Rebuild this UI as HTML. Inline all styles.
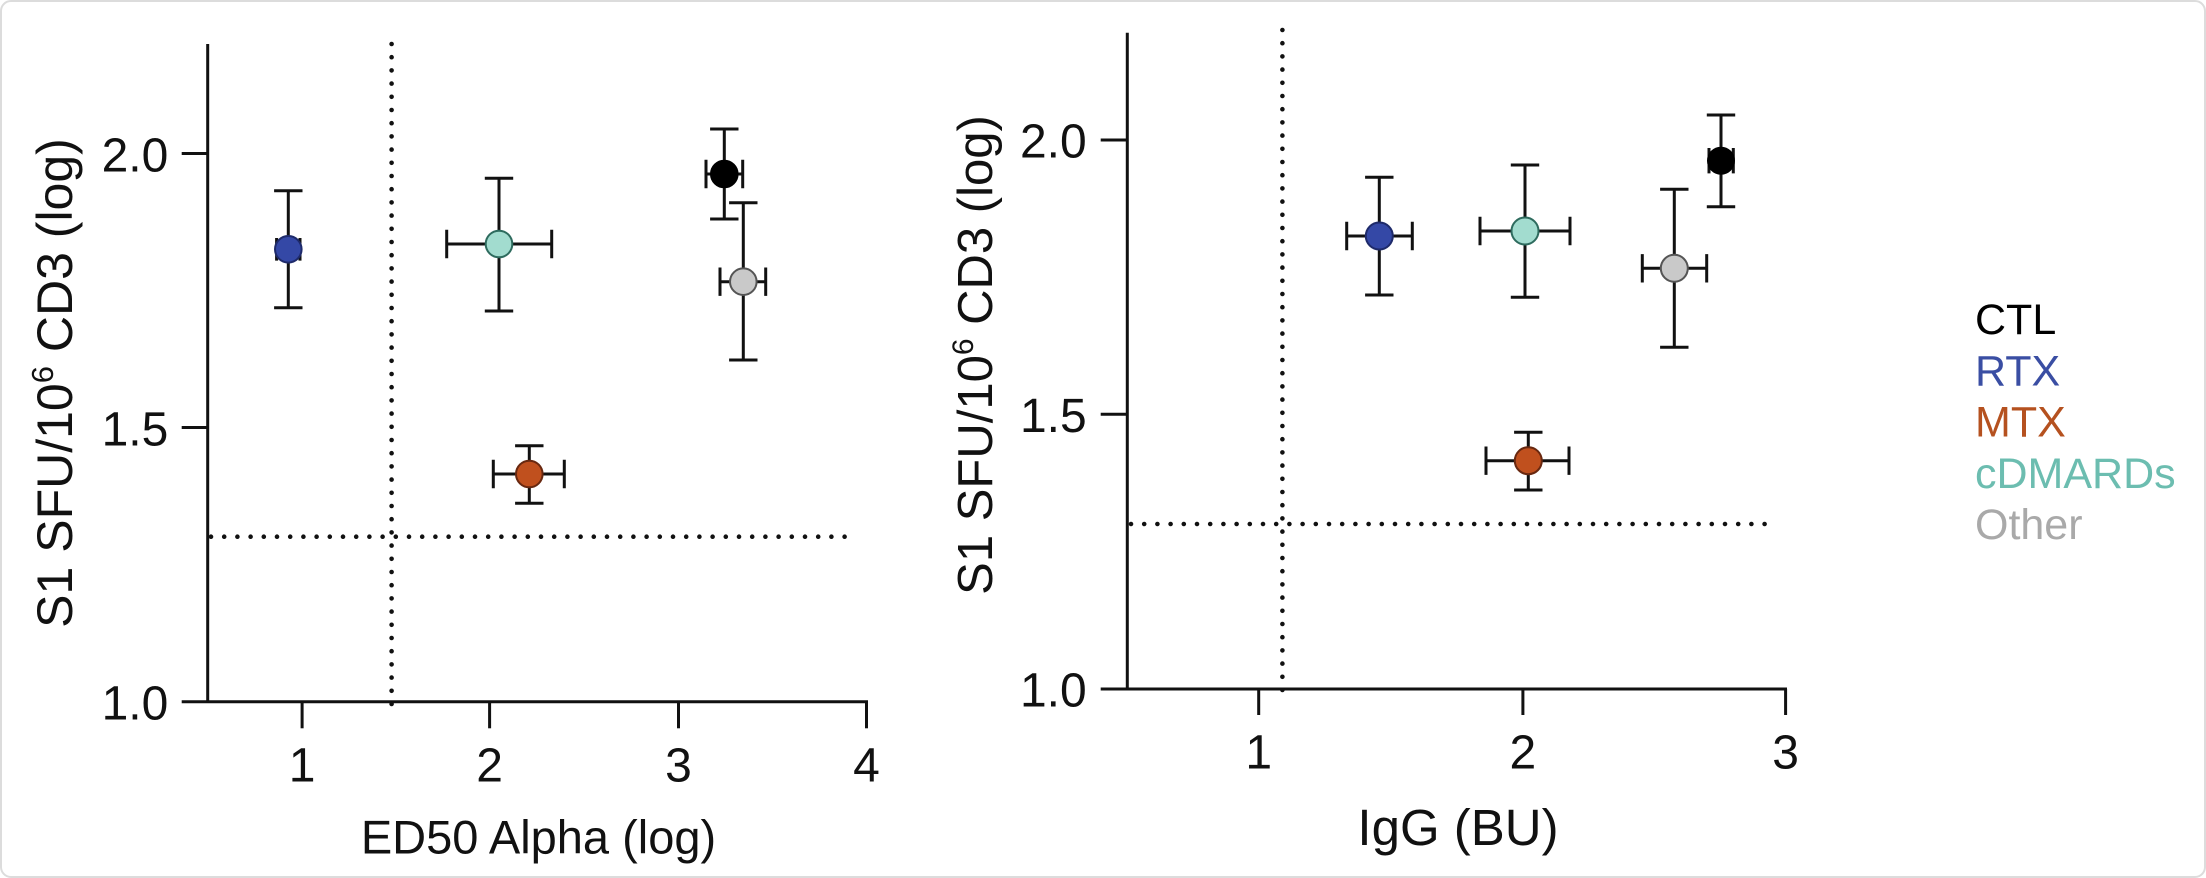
<!DOCTYPE html>
<html>
<head>
<meta charset="utf-8">
<style>
  html,body{margin:0;padding:0;background:#fff;}
  svg{display:block;}
  text{font-family:"Liberation Sans",Arial,sans-serif;}
</style>
</head>
<body>
<svg width="2206" height="878" viewBox="0 0 2206 878" xmlns="http://www.w3.org/2000/svg">
  <rect x="1" y="1" width="2204" height="876" rx="10" ry="10" fill="#fff" stroke="#dcdcdc" stroke-width="2"/>

  <!-- ================= LEFT PANEL ================= -->
  <g stroke="#111" stroke-width="3" fill="none">
    <line x1="207.7" y1="44" x2="207.7" y2="703"/>
    <line x1="181.7" y1="701.7" x2="868" y2="701.7"/>
    <line x1="181.7" y1="153.5" x2="207.7" y2="153.5"/>
    <line x1="181.7" y1="427.5" x2="207.7" y2="427.5"/>
    <line x1="302.1" y1="701.7" x2="302.1" y2="728.3"/>
    <line x1="489.6" y1="701.7" x2="489.6" y2="728.3"/>
    <line x1="678.5" y1="701.7" x2="678.5" y2="728.3"/>
    <line x1="866.5" y1="701.7" x2="866.5" y2="728.3"/>
  </g>
  <g stroke="#111" stroke-width="4.6" stroke-linecap="round" stroke-dasharray="0 13.2" fill="none">
    <line x1="391.6" y1="44" x2="391.6" y2="705"/>
    <line x1="211" y1="536.7" x2="857" y2="536.7"/>
  </g>
  <g font-size="48" fill="#111" text-anchor="end">
    <text x="168.3" y="171.5">2.0</text>
    <text x="168.3" y="445.5">1.5</text>
    <text x="168.3" y="719.5">1.0</text>
  </g>
  <g font-size="48" fill="#111" text-anchor="middle">
    <text x="302.1" y="781.7">1</text>
    <text x="489.6" y="781.7">2</text>
    <text x="678.5" y="781.7">3</text>
    <text x="866.5" y="781.7">4</text>
  </g>
  <text x="538.5" y="853.3" font-size="47" fill="#111" text-anchor="middle">ED50 Alpha (log)</text>
  <text transform="translate(72,383) rotate(-90)" font-size="50" fill="#111" text-anchor="middle">S1 SFU/10<tspan font-size="31" dy="-19">6</tspan><tspan dy="19"> CD3 (log)</tspan></text>

  <!-- error bars left -->
  <g stroke="#111" stroke-width="3" fill="none">
    <!-- blue -->
    <path d="M288.3 190.7V307.7M274.1 190.7H302.5M274.1 307.7H302.5M276.6 249.3H300M276.6 238V260.6M300 238V260.6"/>
    <!-- cyan -->
    <path d="M499 178.3V311M484.8 178.3H513.2M484.8 311H513.2M446.7 244H551.7M446.7 229.8V258.2M551.7 229.8V258.2"/>
    <!-- orange -->
    <path d="M529.3 445.7V503.3M515.1 445.7H543.5M515.1 503.3H543.5M493.3 474H564.3M493.3 459.8V488.2M564.3 459.8V488.2"/>
    <!-- black -->
    <path d="M724.3 129V219M710.1 129H738.5M710.1 219H738.5M706 174H742.7M706 159.8V188.2M742.7 159.8V188.2"/>
    <!-- gray -->
    <path d="M743.3 202.7V360M729.1 202.7H757.5M729.1 360H757.5M720 281.7H765.7M720 267.5V295.9M765.7 267.5V295.9"/>
  </g>
  <g stroke-width="2">
    <circle cx="288.3" cy="249.3" r="13.3" fill="#3448a6" stroke="#1e2a6a"/>
    <circle cx="499" cy="244" r="13.3" fill="#a2dccf" stroke="#2e6b5e"/>
    <circle cx="529.3" cy="474" r="13.3" fill="#c0501e" stroke="#682810"/>
    <circle cx="724.3" cy="174" r="13.3" fill="#000" stroke="#000"/>
    <circle cx="743.3" cy="281.7" r="13.3" fill="#c9c9c9" stroke="#555"/>
  </g>

  <!-- ================= RIGHT PANEL ================= -->
  <g stroke="#111" stroke-width="3" fill="none">
    <line x1="1127.3" y1="32.7" x2="1127.3" y2="690.5"/>
    <line x1="1100.7" y1="689" x2="1787" y2="689"/>
    <line x1="1100.7" y1="140" x2="1127.3" y2="140"/>
    <line x1="1100.7" y1="414.3" x2="1127.3" y2="414.3"/>
    <line x1="1258.7" y1="689" x2="1258.7" y2="715"/>
    <line x1="1522.9" y1="689" x2="1522.9" y2="715"/>
    <line x1="1785.6" y1="689" x2="1785.6" y2="715"/>
  </g>
  <g stroke="#111" stroke-width="4.6" stroke-linecap="round" stroke-dasharray="0 13.2" fill="none">
    <line x1="1282.4" y1="30" x2="1282.4" y2="693"/>
    <line x1="1131" y1="524" x2="1777" y2="524"/>
  </g>
  <g font-size="48" fill="#111" text-anchor="end">
    <text x="1086.7" y="157.5">2.0</text>
    <text x="1086.7" y="431.8">1.5</text>
    <text x="1086.7" y="706.5">1.0</text>
  </g>
  <g font-size="48" fill="#111" text-anchor="middle">
    <text x="1258.7" y="768.3">1</text>
    <text x="1522.9" y="768.3">2</text>
    <text x="1785.6" y="768.3">3</text>
  </g>
  <text x="1458" y="845" font-size="51" fill="#111" text-anchor="middle">IgG (BU)</text>
  <text transform="translate(992,355) rotate(-90)" font-size="49" fill="#111" text-anchor="middle">S1 SFU/10<tspan font-size="30" dy="-19">6</tspan><tspan dy="19"> CD3 (log)</tspan></text>

  <g stroke="#111" stroke-width="3" fill="none">
    <!-- blue -->
    <path d="M1379.3 177.3V295M1365.1 177.3H1393.5M1365.1 295H1393.5M1346.7 236H1412.3M1346.7 221.8V250.2M1412.3 221.8V250.2"/>
    <!-- cyan -->
    <path d="M1525 165V297.3M1510.8 165H1539.2M1510.8 297.3H1539.2M1480 231H1570M1480 216.8V245.2M1570 216.8V245.2"/>
    <!-- orange -->
    <path d="M1528.3 432.3V490M1514.1 432.3H1542.5M1514.1 490H1542.5M1486 460.7H1569M1486 446.5V474.9M1569 446.5V474.9"/>
    <!-- gray -->
    <path d="M1674.3 189.3V347.3M1660.1 189.3H1688.5M1660.1 347.3H1688.5M1642.3 268.3H1706.7M1642.3 254.1V282.5M1706.7 254.1V282.5"/>
    <!-- black -->
    <path d="M1721 115V206.7M1706.8 115H1735.2M1706.8 206.7H1735.2M1709 160.7H1733.3M1709 148V173.4M1733.3 148V173.4"/>
  </g>
  <g stroke-width="2">
    <circle cx="1379.3" cy="236" r="13.5" fill="#3448a6" stroke="#1e2a6a"/>
    <circle cx="1525" cy="231" r="13.5" fill="#a2dccf" stroke="#2e6b5e"/>
    <circle cx="1528.3" cy="460.7" r="13.5" fill="#c0501e" stroke="#682810"/>
    <circle cx="1674.3" cy="268.3" r="13.5" fill="#c9c9c9" stroke="#555"/>
    <circle cx="1721" cy="160.7" r="13" fill="#000" stroke="#000"/>
  </g>

  <!-- ================= LEGEND ================= -->
  <g font-size="43">
    <text x="1975" y="334" fill="#000">CTL</text>
    <text x="1975" y="385.3" fill="#3a4ea3">RTX</text>
    <text x="1975" y="436.6" fill="#b5511f">MTX</text>
    <text x="1975" y="487.9" fill="#6cbdb0">cDMARDs</text>
    <text x="1975" y="539.2" fill="#a9a9a9">Other</text>
  </g>
</svg>
</body>
</html>
